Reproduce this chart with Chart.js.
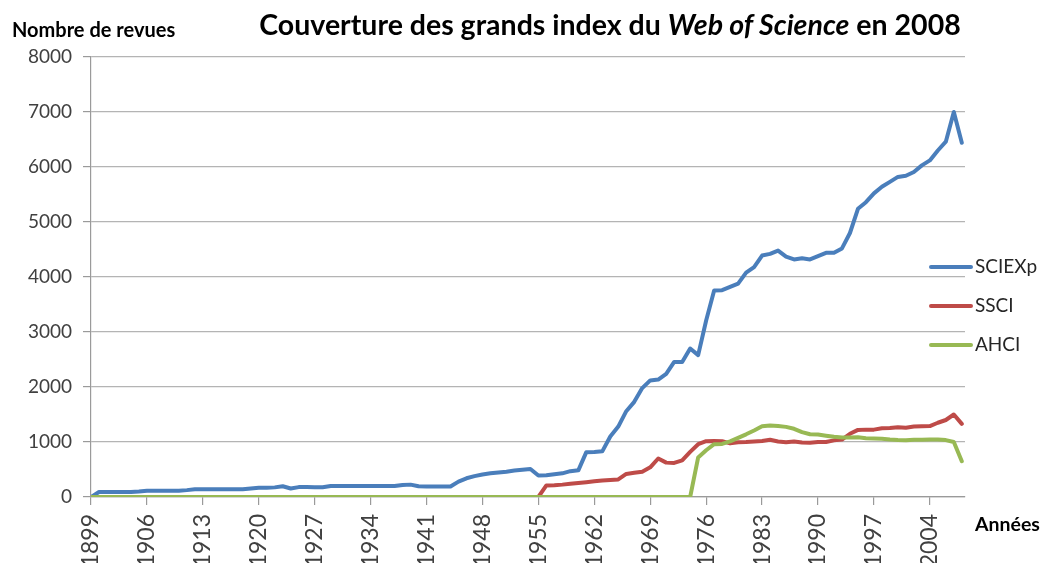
<!DOCTYPE html>
<html lang="fr">
<head>
<meta charset="utf-8">
<title>Couverture des grands index du Web of Science en 2008</title>
<script src="https://cdn.jsdelivr.net/npm/chart.js@4/dist/chart.umd.min.js"></script>
<style>
  body { margin: 0; background: #fff; }
  #wrap { position: relative; width: 1040px; height: 563px; overflow: hidden; font-family: Lato, "Open Sans", sans-serif; color: #000; }
  #chart { position: absolute; left: 0; top: 0; }
  .lbl { position: absolute; font-weight: bold; white-space: nowrap; }
  #title { left: 0; width: 1220px; top: 7px; text-align: center; font-size: 28.5px; }
  #ytitle { left: 12px; top: 17px; font-size: 20px; }
  #xtitle { left: 975px; top: 512px; font-size: 19.5px; }
</style>
</head>
<body>
<div id="wrap">
  <canvas id="chart" width="1040" height="563"></canvas>
  <div class="lbl" id="title">Couverture des grands index du <i>Web of Science</i> en 2008</div>
  <div class="lbl" id="ytitle">Nombre de revues</div>
  <div class="lbl" id="xtitle">Années</div>
</div>
<script>
// years 1899 .. 2008, one value per year
const firstYear = 1899;

const sciexp = [
  0, 90, 90, 90, 90, 90, 100, 115, 115, 115, 115, 115, 125,          // 1899-1911
  140, 140, 140, 140, 140, 140, 140, 155,                            // 1912-1919
  168, 170, 175, 195, 155, 180, 180, 178, 178, 200,                  // 1920-1929
  200, 200, 200, 200, 200, 200, 200, 200, 220, 225,                  // 1930-1939
  195, 190, 190, 190, 190, 280, 340, 380, 410, 430,                  // 1940-1949
  445, 460, 480, 495, 510, 390, 395, 415, 430, 470,                  // 1950-1959
  485, 815, 820, 830, 1100, 1280, 1560, 1730, 1980, 2120,            // 1960-1969
  2135, 2240, 2455, 2455, 2700, 2580, 3210, 3755, 3760, 3820,        // 1970-1979
  3880, 4080, 4180, 4390, 4420, 4480, 4370, 4320, 4340, 4320,        // 1980-1989
  4380, 4440, 4440, 4520, 4800, 5240, 5360, 5520, 5640, 5730,        // 1990-1999
  5820, 5840, 5910, 6030, 6120, 6300, 6460, 7000, 6440               // 2000-2008
];

const ssci = [
  0, 0, 0, 0, 0, 0, 0, 0, 0, 0, 0,                                   // 1899-1909
  0, 0, 0, 0, 0, 0, 0, 0, 0, 0,                                      // 1910-1919
  0, 0, 0, 0, 0, 0, 0, 0, 0, 0,                                      // 1920-1929
  0, 0, 0, 0, 0, 0, 0, 0, 0, 0,                                      // 1930-1939
  0, 0, 0, 0, 0, 0, 0, 0, 0, 0,                                      // 1940-1949
  0, 0, 0, 0, 0, 0, 210, 215, 225, 240,                              // 1950-1959
  255, 270, 285, 300, 310, 320, 420, 440, 460, 540,                  // 1960-1969
  700, 625, 620, 665, 820, 960, 1015, 1020, 1015, 975,               // 1970-1979
  995, 1000, 1010, 1020, 1040, 1010, 995, 1010, 990, 985,            // 1980-1989
  1000, 1000, 1030, 1045, 1150, 1220, 1225, 1225, 1250, 1255,        // 1990-1999
  1270, 1260, 1280, 1285, 1290, 1350, 1400, 1500, 1330               // 2000-2008
];

const ahci = [
  0, 0, 0, 0, 0, 0, 0, 0, 0, 0, 0,                                   // 1899-1909
  0, 0, 0, 0, 0, 0, 0, 0, 0, 0,                                      // 1910-1919
  0, 0, 0, 0, 0, 0, 0, 0, 0, 0,                                      // 1920-1929
  0, 0, 0, 0, 0, 0, 0, 0, 0, 0,                                      // 1930-1939
  0, 0, 0, 0, 0, 0, 0, 0, 0, 0,                                      // 1940-1949
  0, 0, 0, 0, 0, 0, 0, 0, 0, 0,                                      // 1950-1959
  0, 0, 0, 0, 0, 0, 0, 0, 0, 0,                                      // 1960-1969
  0, 0, 0, 0, 0, 720, 850, 960, 965, 1010,                           // 1970-1979
  1075, 1140, 1210, 1285, 1300, 1290, 1275, 1240, 1180, 1140,        // 1980-1989
  1135, 1115, 1095, 1080, 1080, 1085, 1070, 1065, 1060, 1045,        // 1990-1999
  1035, 1030, 1040, 1040, 1045, 1045, 1035, 1000, 650                // 2000-2008
];

const xTickYears = [1899, 1906, 1913, 1920, 1927, 1934, 1941, 1948, 1955, 1962, 1969, 1976, 1983, 1990, 1997, 2004];
const yTicks = [0, 1000, 2000, 3000, 4000, 5000, 6000, 7000, 8000];

const seriesNames = ['SCIEXp', 'SSCI', 'AHCI'];
const seriesColors = ['#4a7ebb', '#be4b48', '#98b954'];

function toPoints(values) {
    return values.map((v, i) => ({ x: firstYear + i, y: v }));
}

// legend drawn at the right, over the end of the plot area like the original
const sideLegend = {
    id: 'sideLegend',
    afterDraw(chart) {
        const ctx = chart.ctx;
        const rows = [267, 306, 345];
        ctx.save();
        ctx.lineCap = 'round';
        ctx.font = '19px Lato, "Open Sans", sans-serif';
        ctx.textBaseline = 'middle';
        chart.data.datasets.forEach((ds, i) => {
            const y = rows[i];
            ctx.strokeStyle = ds.borderColor;
            ctx.lineWidth = 4;
            ctx.beginPath();
            ctx.moveTo(931, y);
            ctx.lineTo(971, y);
            ctx.stroke();
            ctx.fillStyle = '#262626';
            ctx.fillText(ds.label, 975, y);
        });
        ctx.restore();
    }
};

Chart.defaults.font.family = 'Lato, "Open Sans", sans-serif';

new Chart(document.getElementById('chart'), {
    type: 'line',
    data: {
        datasets: seriesNames.map((name, i) => ({
            label: name,
            data: toPoints([sciexp, ssci, ahci][i]),
            borderColor: seriesColors[i],
            borderWidth: 4,
            pointRadius: 0,
            tension: 0,
            borderJoinStyle: 'round',
            borderCapStyle: 'round',
            order: 3 - i
        }))
    },
    options: {
        responsive: false,
        animation: false,
        devicePixelRatio: 1,
        layout: { padding: { top: 57, right: 75, left: 0, bottom: 0 } },
        plugins: {
            legend: { display: false },
            tooltip: { enabled: false }
        },
        scales: {
            x: {
                type: 'linear',
                min: 1899,
                max: 2008.4,
                afterBuildTicks: axis => { axis.ticks = xTickYears.map(v => ({ value: v })); },
                afterFit: axis => { axis.height = 66; },
                ticks: {
                    autoSkip: false,
                    minRotation: 90,
                    maxRotation: 90,
                    padding: 9,
                    color: '#404040',
                    font: { size: 23 },
                    callback: v => String(v)
                },
                grid: { drawOnChartArea: false, drawTicks: true, tickLength: 8, color: '#9a9a9a', lineWidth: 1.2 },
                border: { display: true, color: '#9a9a9a', width: 1.2 }
            },
            y: {
                min: 0,
                max: 8000,
                afterBuildTicks: axis => { axis.ticks = yTicks.map(v => ({ value: v })); },
                afterFit: axis => { axis.width = 91; },
                ticks: {
                    padding: 11,
                    color: '#404040',
                    font: { size: 19 },
                    callback: v => String(v)
                },
                grid: { color: '#b4b4b4', lineWidth: 1.2, tickLength: 8, tickColor: '#9a9a9a' },
                border: { display: true, color: '#9a9a9a', width: 1.2 }
            }
        }
    },
    plugins: [sideLegend]
});
</script>
</body>
</html>
